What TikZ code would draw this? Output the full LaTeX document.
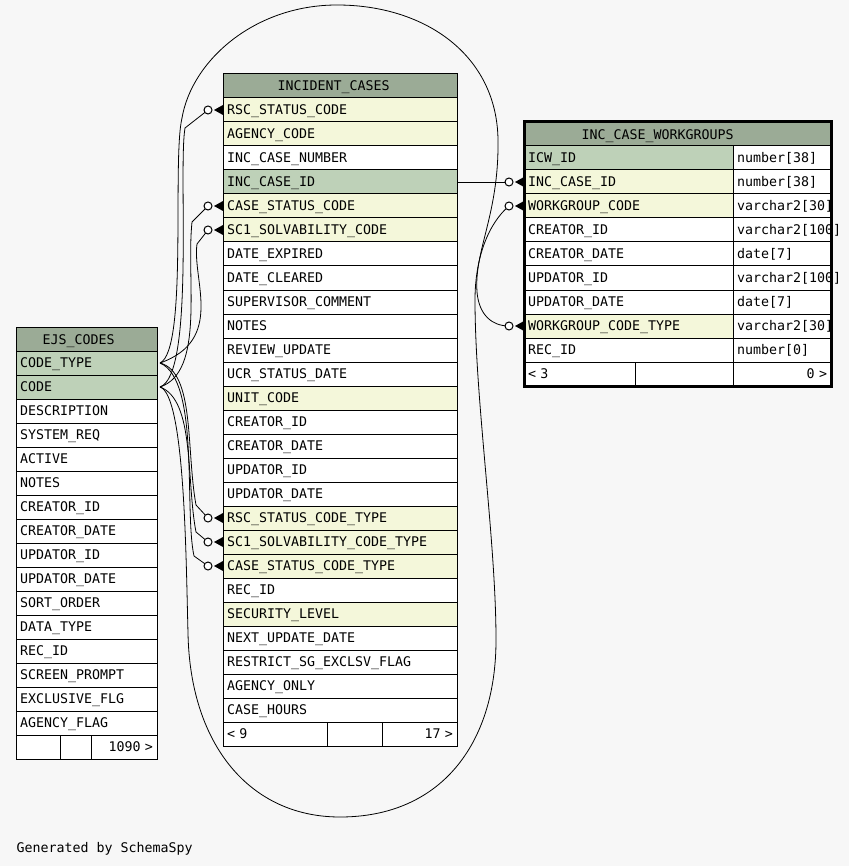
\documentclass[tikz,border=0pt]{standalone}
\usepackage{fontspec}
\newfontfamily\schemafont{DejaVu Sans Mono}
\usetikzlibrary{positioning,chains}
\definecolor{headgreen}{HTML}{9BAB96}
\definecolor{keygreen}{HTML}{BED1B8}
\definecolor{fkyellow}{HTML}{F4F7DA}
\definecolor{canvasgrey}{HTML}{F7F7F7}
\newcommand\colfont{\schemafont\fontsize{13.3}{14}\selectfont}
\newcommand\fkmark[1]{%
  \fill ([xshift=-9pt]#1.west) -- ([yshift=5pt]#1.west) -- ([yshift=-5pt]#1.west) -- cycle;
  \draw[fill=white] ([xshift=-15pt]#1.west) circle (4pt);}

\begin{document}
\begin{tikzpicture}[x=1pt,y=-1pt,line width=1pt,
  tablecell/.style={draw,rectangle,outer sep=0pt,inner xsep=4pt,inner ysep=0pt,
    minimum height=24pt,text height=11pt,text depth=1.3pt,font=\colfont,align=left,fill=white},
  colrow/.style={tablecell,text width=#1},
  tablehead/.style={tablecell,fill=headgreen,text width=#1,anchor=north west},
  tabletitle/.style={font=\colfont,inner sep=0pt,anchor=base west},
  fklink/.style={line width=0.8pt},
  node distance=0pt
]
\fill[canvasgrey] (0,0) rectangle (849,866);

% the incident cases
\begin{scope}[start chain=going below]
\node[on chain,tablehead=226pt] (ic0) at (223,74) {};
\foreach \t/\c [count=\i] in {RSC\_STATUS\_CODE/fkyellow,AGENCY\_CODE/fkyellow,
  INC\_CASE\_NUMBER/white,INC\_CASE\_ID/keygreen,CASE\_STATUS\_CODE/fkyellow,
  SC1\_SOLVABILITY\_CODE/fkyellow,DATE\_EXPIRED/white,DATE\_CLEARED/white,
  SUPERVISOR\_COMMENT/white,NOTES/white,REVIEW\_UPDATE/white,UCR\_STATUS\_DATE/white,
  UNIT\_CODE/fkyellow,CREATOR\_ID/white,CREATOR\_DATE/white,UPDATOR\_ID/white,
  UPDATOR\_DATE/white,RSC\_STATUS\_CODE\_TYPE/fkyellow,
  SC1\_SOLVABILITY\_CODE\_TYPE/fkyellow,CASE\_STATUS\_CODE\_TYPE/fkyellow,
  REC\_ID/white,SECURITY\_LEVEL/fkyellow,NEXT\_UPDATE\_DATE/white,
  RESTRICT\_SG\_EXCLSV\_FLAG/white,AGENCY\_ONLY/white,CASE\_HOURS/white}
  \node[on chain,colrow=226pt,fill=\c] (ic\i) {\t};
\end{scope}
\node[colrow=96pt,anchor=north west] (icf1) at (ic26.south west) {< 9};
\node[colrow=47pt,right=of icf1] (icf2) {};
\node[colrow=67pt,right=of icf2,align=right] (icf3) {17 >};
\node[tabletitle] (ic-title) at (277,91) {INCIDENT\_CASES};

% the codes
\begin{scope}[start chain=going below]
\node[on chain,tablehead=133pt] (ejs0) at (16,327) {};
\foreach \t/\c [count=\i] in {CODE\_TYPE/keygreen,CODE/keygreen,DESCRIPTION/white,
  SYSTEM\_REQ/white,ACTIVE/white,NOTES/white,CREATOR\_ID/white,CREATOR\_DATE/white,
  UPDATOR\_ID/white,UPDATOR\_DATE/white,SORT\_ORDER/white,DATA\_TYPE/white,
  REC\_ID/white,SCREEN\_PROMPT/white,EXCLUSIVE\_FLG/white,AGENCY\_FLAG/white}
  \node[on chain,colrow=133pt,fill=\c] (ejs\i) {\t};
\end{scope}
\node[colrow=36pt,anchor=north west] (ejsf1) at (ejs16.south west) {};
\node[colrow=23pt,right=of ejsf1] (ejsf2) {};
\node[colrow=58pt,right=of ejsf2,align=right] (ejsf3) {1090 >};
\node[tabletitle] (ejs-title) at (42,344) {EJS\_CODES};

% the workgroups
\node[tablehead=299pt] (icw0) at (524,122) {};
\begin{scope}[start chain=going below]
\node[on chain,colrow=201pt,fill=keygreen,anchor=north west] (icw1) at (524,146) {ICW\_ID};
\node[colrow=90pt,right=of icw1] (icwt1) {number[38]};
\foreach \t/\d/\c [count=\i from 2] in {INC\_CASE\_ID/number[38]/fkyellow,
  WORKGROUP\_CODE/varchar2[30]/fkyellow,CREATOR\_ID/varchar2[100]/white,
  CREATOR\_DATE/date[7]/white,UPDATOR\_ID/varchar2[100]/white,
  UPDATOR\_DATE/date[7]/white,WORKGROUP\_CODE\_TYPE/varchar2[30]/fkyellow,
  REC\_ID/number[0]/white}{
  \node[on chain,colrow=201pt,fill=\c] (icw\i) {\t};
  \node[colrow=90pt,right=of icw\i] (icwt\i) {\d};
}
\end{scope}
\node[colrow=103pt,anchor=north west] (icwf1) at (icw9.south west) {< 3};
\node[colrow=90pt,right=of icwf1] (icwf2) {};
\node[colrow=90pt,right=of icwf2,align=right] (icwf3) {0 >};
\node[tabletitle] (icw-title) at (581,139.5) {INC\_CASE\_WORKGROUPS};

% the link ends
\coordinate (ejs1-out) at ([xshift=3pt]ejs1.east);
\coordinate (ejs2-out) at ([xshift=3pt]ejs2.east);
\foreach \n in {ic1,ic5,ic6,ic18,ic19,ic20,icw2,icw3,icw8}
  \coordinate (\n-in) at ([xshift=-15pt]\n.west);

% the code links
\draw[fklink] (ejs2-out) .. controls (195,375) and (178,170) .. (185,128) -- (ic1-in);
\draw[fklink] (ejs2-out) .. controls (205,372) and (186,280) .. (192,222) -- (ic5-in);
\draw[fklink] (ejs1-out) .. controls (225,340) and (192,280) .. (197,244) -- (ic6-in);
\draw[fklink] (ejs1-out) .. controls (195,372) and (186,450) .. (196,505) -- (ic18-in);
\draw[fklink] (ejs2-out) .. controls (195,400) and (186,480) .. (196,532) -- (ic19-in);
\draw[fklink] (ejs1-out) .. controls (200,380) and (184,510) .. (194,556) -- (ic20-in);

% round the incident cases, over the top
\draw[fklink] (ejs1-out) .. controls (188,350) and (172,160) .. (182,118)
  .. controls (192,60) and (255,5) .. (337,5)
  .. controls (425,5) and (497,55) .. (498,140)
  .. controls (499,215) and (474,250) .. (477,292)
  .. controls (479,315) and (492,326) .. (icw8-in);
% and under the bottom
\draw[fklink] (ejs2-out) .. controls (185,395) and (186,560) .. (188,633)
  .. controls (190,745) and (250,817) .. (340,817)
  .. controls (440,817) and (496,745) .. (496,640)
  .. controls (496,540) and (475,400) .. (475,300)
  .. controls (475,255) and (490,222) .. (icw3-in);

% the case link
\draw[fklink] (ic4.east) -- (icw2-in);

\foreach \n in {ic1,ic5,ic6,ic18,ic19,ic20,icw2,icw3,icw8}{\fkmark{\n}}

\draw[line width=3pt] (icw0.north west) rectangle (icwf3.south east);
\node[tabletitle] (credit) at (16,852) {Generated by SchemaSpy};
\end{tikzpicture}
\end{document}
